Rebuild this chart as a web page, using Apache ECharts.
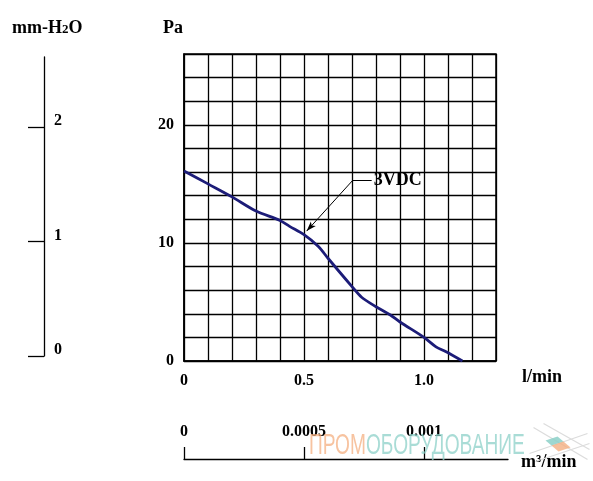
<!DOCTYPE html>
<html>
<head>
<meta charset="utf-8">
<script src="https://cdn.jsdelivr.net/npm/echarts@6/dist/echarts.min.js"></script>
<style>
  html, body { margin: 0; padding: 0; background: #fff; }
  #chart { width: 593px; height: 481px; }
</style>
</head>
<body>
<div id="chart"></div>
<script>
/* ===== data ===== */
const flowLmin = [0, 0.1, 0.2, 0.3, 0.4, 0.44, 0.5, 0.56, 0.6, 0.7, 0.74, 0.8, 0.86, 0.9, 1.0, 1.05, 1.09, 1.16];
const pressPa  = [16.1, 15.0, 13.9, 12.7, 11.9, 11.4, 10.7, 9.7, 8.7, 6.3, 5.4, 4.6, 3.9, 3.3, 2.0, 1.2, 0.8, 0];

const paTicks = [0, 10, 20];
const lminTicks = [0, 0.5, 1.0];
const lminLabels = ["0", "0.5", "1.0"];
const mmTicks = [0, 1, 2];
const m3Ticks = [0, 0.0005, 0.001];
const m3Labels = ["0", "0.0005", "0.001"];

const curveName = "3VDC";
// annotation: arrow tail -> head, then short leader to the label (data units)
const arrowTail = [0.703, 15.3];
const arrowHead = [0.511, 11.0];
const leaderEnd = [0.782, 15.3];

const FONT = "'Liberation Serif', 'Times New Roman', serif";
const SANS = "'Liberation Sans', 'DejaVu Sans', sans-serif";
const INK = "#000";
const CURVE = "#1c1c78";

const chart = echarts.init(document.getElementById("chart"), null, { renderer: "canvas" });

const boldText = (size) => ({ fontFamily: FONT, fontWeight: "bold", fontSize: size, color: INK });
const richBold = (size) => ({ fontFamily: FONT, fontWeight: "bold", fontSize: size, fill: INK });

chart.setOption({
    animation: false,
    backgroundColor: "#fff",
    grid: [
        { left: 184, top: 54, right: 97, bottom: 120, show: true, borderColor: INK, borderWidth: 1.5 },
        { left: 44, top: 57, width: 10, bottom: 125 },
        { left: 184, width: 324, top: 400, bottom: 22 },
    ],
    xAxis: [
        {
            gridIndex: 0, type: "value", min: 0, max: 1.3, interval: 0.1,
            axisLine: { lineStyle: { color: INK, width: 1.5 } },
            axisTick: { show: false },
            splitLine: { show: true, lineStyle: { color: INK, width: 1.3 } },
            axisLabel: {
                ...boldText(16), margin: 12, customValues: lminTicks,
                formatter: v => lminLabels[lminTicks.findIndex(t => Math.abs(t - v) < 1e-9)] ?? "",
            },
        },
        { gridIndex: 1, type: "value", show: false, min: 0, max: 1 },
        {
            gridIndex: 2, type: "value", min: 0, max: 0.00135, interval: 0.0005,
            axisLine: { lineStyle: { color: INK, width: 1.3 } },
            axisTick: { inside: true, length: 12, customValues: m3Ticks, lineStyle: { color: INK, width: 1.3 } },
            splitLine: { show: false },
            axisLabel: {
                ...boldText(16), inside: true, margin: 19, customValues: m3Ticks,
                formatter: v => m3Labels[m3Ticks.findIndex(t => Math.abs(t - v) < 1e-12)] ?? "",
            },
        },
    ],
    yAxis: [
        {
            gridIndex: 0, type: "value", min: 0, max: 26, interval: 2,
            axisLine: { show: true, lineStyle: { color: INK, width: 1.5 } },
            axisTick: { show: false },
            splitLine: { show: true, lineStyle: { color: INK, width: 1.3 } },
            axisLabel: { ...boldText(16), margin: 10, customValues: paTicks, padding: [0, 0, 4, 0] },
        },
        {
            gridIndex: 1, type: "value", min: 0, max: 2.611, interval: 1,
            axisLine: { show: true, lineStyle: { color: INK, width: 1.3 } },
            axisTick: { show: true, inside: false, length: 16, customValues: mmTicks, lineStyle: { color: INK, width: 1.3 } },
            splitLine: { show: false },
            axisLabel: { ...boldText(16), inside: true, margin: 10, customValues: mmTicks, verticalAlign: "bottom", lineHeight: 12 },
        },
        { gridIndex: 2, type: "value", show: false, min: 0, max: 1 },
    ],
    series: [
        {
            name: curveName, type: "line", xAxisIndex: 0, yAxisIndex: 0,
            data: flowLmin.map((x, i) => [x, pressPa[i]]),
            showSymbol: false, smooth: 0.3,
            lineStyle: { color: CURVE, width: 2.8 },
            markLine: {
                silent: true, animation: false,
                lineStyle: { color: INK, width: 1, type: "solid" },
                data: [
                    [
                        { coord: arrowTail, symbol: "none" },
                        { coord: arrowHead, symbol: "arrow", symbolSize: [5, 10] },
                    ],
                    [
                        { coord: arrowTail, symbol: "none" },
                        {
                            coord: leaderEnd, symbol: "none",
                            label: { show: true, position: "end", distance: 2, formatter: curveName, ...boldText(18) },
                        },
                    ],
                ],
                label: { show: false },
            },
        },
    ],
    graphic: [
        {
            type: "text", left: 12, top: 19,
            style: {
                text: "{a|mm-H}{s|2}{a|O}",
                rich: { a: richBold(18), s: { ...richBold(13), padding: [3, 0, 0, 0] } },
            },
        },
        { type: "text", left: 163, top: 19, style: { text: "Pa", font: "bold 18px " + FONT, fill: INK } },
        { type: "text", left: 522, top: 368, style: { text: "l/min", font: "bold 18px " + FONT, fill: INK } },
        { type: "text", left: 521, top: 453, style: { text: "m³/min", font: "bold 18px " + FONT, fill: INK } },
        // watermark
        {
            type: "text", left: 309, top: 431, z: 100, scaleX: 0.66,
            style: {
                text: "{o|ПРОМ}{t|ОБОРУДОВАНИЕ}",
                rich: {
                    o: { fontFamily: SANS, fontSize: 29, fill: "rgba(244,170,120,0.7)" },
                    t: { fontFamily: SANS, fontSize: 29, fill: "rgba(140,208,200,0.75)" },
                },
            },
        },
        {
            type: "group", left: 527, top: 421, z: 100,
            children: [
                { type: "line", shape: { x1: 4, y1: 4, x2: 58, y2: 36 }, style: { stroke: "#dcdcdc", lineWidth: 1.2 } },
                { type: "line", shape: { x1: 14, y1: 0, x2: 60, y2: 26 }, style: { stroke: "#dcdcdc", lineWidth: 1.2 } },
                { type: "line", shape: { x1: 0, y1: 30, x2: 58, y2: 10 }, style: { stroke: "#dcdcdc", lineWidth: 1.2 } },
                { type: "line", shape: { x1: 6, y1: 38, x2: 60, y2: 20 }, style: { stroke: "#dcdcdc", lineWidth: 1.2 } },
                { type: "polygon", shape: { points: [[16, 17], [28, 13], [34, 18], [22, 22]] }, style: { fill: "rgba(140,208,200,0.85)" } },
                { type: "polygon", shape: { points: [[22, 22], [34, 18], [41, 24], [29, 28]] }, style: { fill: "rgba(244,175,130,0.8)" } },
            ],
        },
    ],
});
</script>
</body>
</html>
